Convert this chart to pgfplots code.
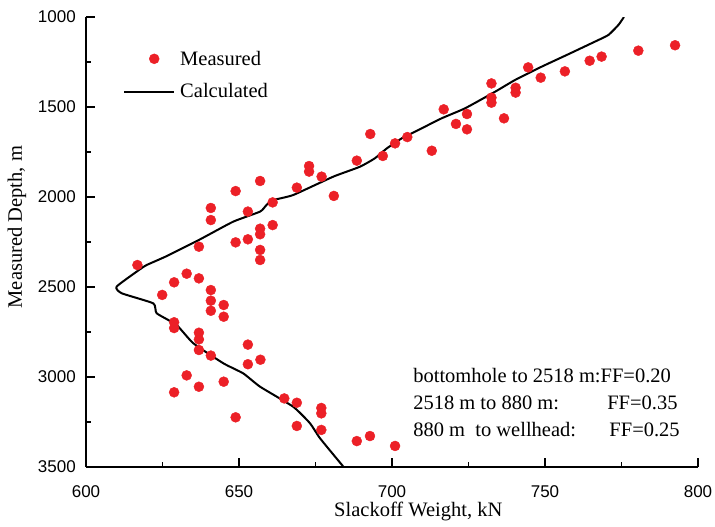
\documentclass[border=0pt]{standalone}
\usepackage{fontspec}
\setmainfont{Liberation Serif}
\setsansfont{Liberation Sans}
\usepackage{pgfplots}
\pgfplotsset{compat=1.18}
\definecolor{ptred}{RGB}{236,32,39}
\pgfplotsset{
  legmark/.style={legend image code/.code={\draw[mark repeat=2,mark phase=2,##1] plot coordinates {(5pt,0pt)(30pt,0pt)(50pt,0pt)};}},
  legline/.style={legend image code/.code={\draw[##1] (0pt,0pt) -- (50pt,0pt);}},
}
\begin{document}
\begin{tikzpicture}
\path[use as bounding box] (-86pt,-60pt) rectangle (629pt,467pt);
\begin{axis}[
  at={(0pt,0pt)}, anchor=south west,
  scale only axis, width=612pt, height=450pt,
  xmin=600, xmax=800, ymin=1000, ymax=3500,
  y dir=reverse,
  axis x line*=bottom, axis y line*=left,
  axis line style={-, line width=2pt},
  every tick/.style={black, line width=1.6pt},
  tick align=inside,
  major tick length=9pt, minor tick length=5pt,
  xtick={600,650,...,800}, ytick={1000,1500,...,3500},
  minor x tick num=1, minor y tick num=1,
  /pgf/number format/1000 sep={},
  /pgf/number format/assume math mode=true,
  tick label style={font=\fontsize{17}{20}\sffamily, inner sep=0pt},
  xticklabel style={yshift=-18pt},
  yticklabel style={xshift=-10pt},
  xlabel={Slackoff Weight, kN},
  ylabel={Measured Depth, m},
  label style={font=\fontsize{20.5}{24}\selectfont},
  xlabel style={at={(axis description cs:0.543,-0.1089)}, anchor=base, inner sep=0pt},
  ylabel style={at={(axis description cs:-0.1046,0.533)}, anchor=base, inner sep=0pt},
  legend style={draw=none, fill=none, at={(axis description cs:0.0605,0.925)}, anchor=north west,
    inner sep=0pt, row sep=17pt, column sep=5pt, font=\fontsize{20.5}{24}\selectfont,
    nodes={inner sep=0pt}},
  legend cell align=left,
]
\addplot[only marks, mark=*, mark size=5pt, color=ptred, legmark]
coordinates {
(688.5,1798) (672.9,1828) (672.9,1859) (677.0,1887) (668.9,1948) (681.0,1994)
(656.9,1911) (648.9,1967) (661.0,2030) (640.8,2061) (640.8,2128) (652.9,2081)
(661.0,2156) (656.9,2176) (656.9,2207) (648.9,2252) (652.9,2235) (636.9,2276)
(656.9,2294) (656.9,2350) (616.8,2378) (632.9,2426) (636.9,2452) (628.8,2474)
(624.9,2544) (640.8,2517) (640.8,2576) (640.8,2632) (645.0,2600) (645.0,2665)
(628.8,2696) (628.8,2728) (636.9,2754) (636.9,2791) (652.9,2820) (636.9,2850)
(640.8,2881) (657.0,2904) (652.9,2929) (632.9,2991) (645.0,3026) (636.9,3054)
(628.8,3085) (664.8,3119) (668.9,3143) (676.9,3172) (676.9,3202) (648.9,3224)
(668.9,3272) (676.9,3294) (688.5,3356) (692.8,3328) (701.0,3383) (692.9,1650)
(697.0,1772) (701.0,1702) (705.0,1667) (713.0,1743) (716.9,1513) (720.9,1594)
(724.5,1539) (724.5,1624) (732.5,1369) (732.5,1448) (732.5,1476) (736.6,1563)
(740.4,1393) (740.4,1420) (744.5,1280) (748.6,1337) (756.5,1302) (764.6,1243)
(768.5,1220) (780.5,1187) (792.5,1157)
};
\addlegendentry{Measured}
\addplot[black, line width=2pt, smooth, tension=0.3, legline]
coordinates {
(775.8,1000) (774.0,1044) (770.7,1100) (766.3,1137) (757.6,1207) (748.9,1276)
(740.2,1350) (733.7,1415) (723.9,1507) (716.2,1563) (708.6,1628) (703.2,1674)
(698.3,1730) (694.4,1785) (689.5,1832) (680.8,1887) (667.7,1989) (661.2,2017)
(659.0,2044) (656.9,2081) (648.1,2137) (637.3,2235) (626.4,2328) (619.8,2378)
(617.6,2402) (610.0,2498) (611.7,2535) (622.0,2591) (623.1,2646) (629.6,2711)
(635.1,2813) (644.9,2924) (651.4,2980) (656.9,3054) (667.7,3165) (673.2,3257)
(676.5,3341) (684.2,3500)
};
\addlegendentry{Calculated}
\node[anchor=base west, inner sep=0pt, font=\fontsize{20.5}{24}\selectfont] at (axis cs:706.9,3033) {bottomhole to 2518 m:FF=0.20};
\node[anchor=base west, inner sep=0pt, font=\fontsize{20.5}{24}\selectfont] at (axis cs:706.9,3178) {2518 m to 880 m:};
\node[anchor=base west, inner sep=0pt, font=\fontsize{20.5}{24}\selectfont] at (axis cs:770.3,3178) {FF=0.35};
\node[anchor=base west, inner sep=0pt, font=\fontsize{20.5}{24}\selectfont] at (axis cs:706.9,3328) {880 m\ \ to wellhead:};
\node[anchor=base west, inner sep=0pt, font=\fontsize{20.5}{24}\selectfont] at (axis cs:771.0,3328) {FF=0.25};
\end{axis}
\end{tikzpicture}
\end{document}
